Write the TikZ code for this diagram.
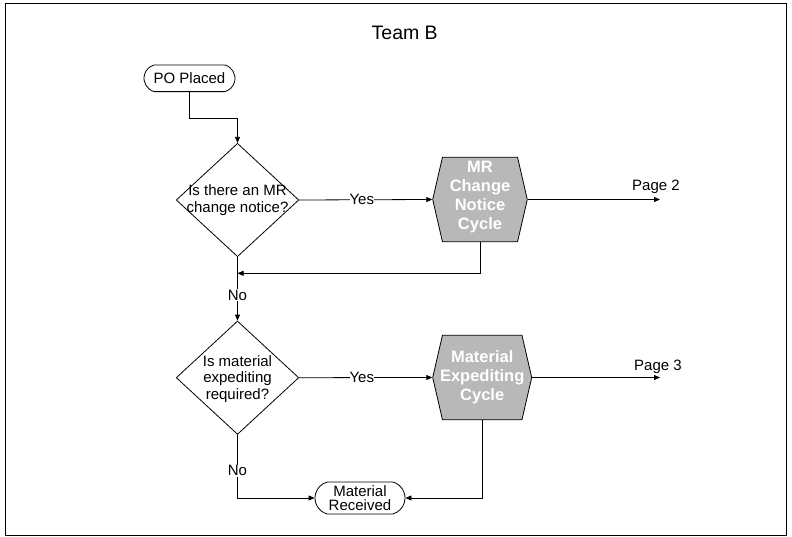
\documentclass[tikz,border=0pt]{standalone}
\usepackage{fontspec}
\setmainfont{Liberation Sans}
\usetikzlibrary{shapes.geometric,shapes.misc,shapes.symbols,arrows.meta}
\definecolor{cyclefill}{RGB}{184,184,184}
\begin{document}
\begin{tikzpicture}[x=1pt,y=-1pt,
  line width=0.8pt,
  txt/.style={font=\fontsize{15}{16.7}\selectfont, align=center, inner sep=0pt},
  term/.style={draw, rounded rectangle, rounded rectangle arc length=150,
    inner sep=0pt, align=center, font=\fontsize{15}{16.7}\selectfont},
  decision/.style={draw, diamond, inner sep=0pt,
    minimum width=122.6pt, minimum height=113.4pt},
  cycle/.style={draw, fill=cyclefill, signal, signal to=west and east,
    signal pointer angle=154, inner sep=0pt, minimum height=84.5pt},
  cyclelabel/.style={text=white, font=\bfseries\fontsize{16.5}{19.2}\selectfont,
    align=center, inner sep=0pt},
  flow/.style={-{Triangle[length=6pt,width=5pt]}},
  edgelabel/.style={txt, fill=white, inner sep=1pt}
]
\useasboundingbox (0,0) rectangle (792,537);

% frame
\draw[line width=1pt] (5,3.5) rectangle (786.5,535);

% title
\node[txt, font=\fontsize{19.5}{22}\selectfont, anchor=base] (title) at (404.7,39.3) {Team B};

% shapes
\node[term, minimum width=91pt, minimum height=26.7pt] (po) at (189.5,78.3) {PO Placed};

\node[decision] (d1) at (237.5,200) {};
\node[txt] (d1t) at (237.5,200) {Is there an MR\\change notice?};

\node[cycle, minimum width=94.6pt] (h1) at (480,199.5) {};
\node[cyclelabel] (h1t) at (480,197) {MR\\Change\\Notice\\Cycle};

\node[decision] (d2) at (237.5,377.7) {};
\node[txt] (d2t) at (237.5,379) {Is material\\expediting\\required?};

\node[cycle, minimum width=99pt] (h2) at (482.2,377.5) {};
\node[cyclelabel] (h2t) at (482.2,377) {Material\\Expediting\\Cycle};

\node[term, minimum width=90pt, minimum height=32pt,
  font=\fontsize{15}{14.3}\selectfont] (mr) at (360,498) {Material\\Received};

% off-page references
\node[txt, anchor=base] (p2l) at (656,191) {Page 2};
\node[txt, anchor=base] (p3l) at (658,370) {Page 3};

% connector end points
\coordinate (j1) at (237.5,118.3);
\coordinate (j2) at (237.5,273.3);
\coordinate (p2) at (660,199.5);
\coordinate (p3) at (660,377.5);

% connectors
\draw[flow] (po.south) |- (j1) -- (d1.north);
\draw[flow] (d1.east) -- node[edgelabel, inner sep=0pt, pos=0.47] (y1) {Yes} (h1.west);
\draw[flow] (h1.east) -- (p2);
\draw[flow] (h1.south) |- (j2);
\draw[flow] (d1.south) -- node[edgelabel, pos=0.6] (n1) {No} (d2.north);
\draw[flow] (d2.east) -- node[edgelabel, inner sep=0pt, pos=0.47] (y2) {Yes} (h2.west);
\draw[flow] (h2.east) -- (p3);
\draw[flow] (h2.south) |- (mr.east);
\draw[flow] (d2.south) |- node[edgelabel, pos=0.285] (n2) {No} (mr.west);
\end{tikzpicture}
\end{document}
